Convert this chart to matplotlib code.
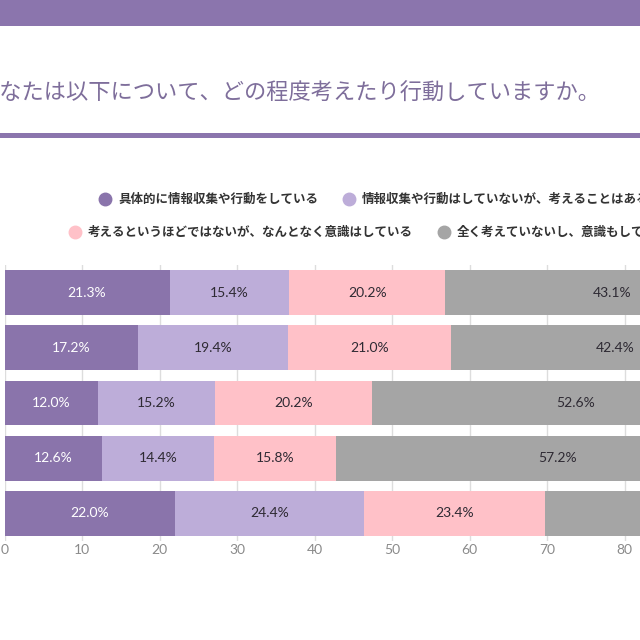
import matplotlib
matplotlib.use('Agg')
import matplotlib.pyplot as plt
from matplotlib.patches import Rectangle
from matplotlib.lines import Line2D
import numpy as np

plt.rcParams['font.family'] = ['Noto Sans CJK JP', 'DejaVu Sans']

title = 'あなたは以下について、どの程度考えたり行動していますか。'
series_names = [
    '具体的に情報収集や行動をしている',
    '情報収集や行動はしていないが、考えることはある',
    '考えるというほどではないが、なんとなく意識はしている',
    '全く考えていないし、意識もしていない',
]
colors = ['#8a74ab', '#bdadd9', '#ffc1c8', '#a5a5a5']
text_colors = ['#ffffff', '#2e2a33', '#2e2a33', '#2e2a33']

# one row per bar, top to bottom
dark = [21.3, 17.2, 12.0, 12.6, 22.0]
light = [15.4, 19.4, 15.2, 14.4, 24.4]
pink = [20.2, 21.0, 20.2, 15.8, 23.4]
gray = [43.1, 42.4, 52.6, 57.2, 30.2]
series = [dark, light, pink, gray]
# the chart is cropped on the right, only ticks up to 80 are in view
xticks = [0, 10, 20, 30, 40, 50, 60, 70, 80]
visible_max = 82

fig = plt.figure(figsize=(6.4, 6.4), dpi=100)
fig.patch.set_facecolor('white')

# header band and title underline
fig.add_artist(Rectangle((0, 0.959), 1, 0.041, transform=fig.transFigure,
                         facecolor='#8b75ad', edgecolor='none'))
fig.add_artist(Rectangle((0, 0.784), 1, 0.008, transform=fig.transFigure,
                         facecolor='#8b75ad', edgecolor='none'))
fig.text(-22 / 640, 1 - 93 / 640, title, fontsize=16, color='#7e6e9b',
         ha='left', va='center')

# legend drawn by hand, two rows
legend_pos = [(105, 199), (349, 199), (75, 232), (444, 232)]
for name, c, (px, py) in zip(series_names, colors, legend_pos):
    fig.add_artist(Line2D([px / 640], [1 - py / 640], marker='o', markersize=9,
                          color=c, transform=fig.transFigure, linestyle='none'))
    fig.text((px + 13) / 640, 1 - py / 640, name, fontsize=9, color='#333333',
             ha='left', va='center', fontweight='bold')

ax = fig.add_axes([4.5 / 640, 0.1545, 775 / 640, 0.4316])
y = np.arange(len(dark))
left = np.zeros(len(dark))
for vals, c, tc in zip(series, colors, text_colors):
    vals = np.array(vals)
    ax.barh(y, vals, left=left, height=0.81, color=c, zorder=2)
    for yi, (l, v) in enumerate(zip(left, vals)):
        if l + v / 2 > visible_max:
            continue
        ax.text(l + v / 2, yi, f'{v:.1f}%', ha='center', va='center',
                color=tc, fontsize=10, family=['Lato', 'DejaVu Sans'], zorder=3)
    left = left + vals

ax.set_xlim(0, 100)
ax.set_ylim(len(dark) - 0.5, -0.5)
ax.set_xticks(xticks)
ax.set_yticks([])
ax.tick_params(axis='x', length=0, pad=2, labelsize=10, labelcolor='#8a8a8a')
for lab in ax.get_xticklabels():
    lab.set_family(['Lato', 'DejaVu Sans'])
ax.grid(axis='x', color='#dddddd', linewidth=1, zorder=0)
for s in ax.spines.values():
    s.set_visible(False)

fig.savefig('out.png', dpi=100, facecolor='white')
